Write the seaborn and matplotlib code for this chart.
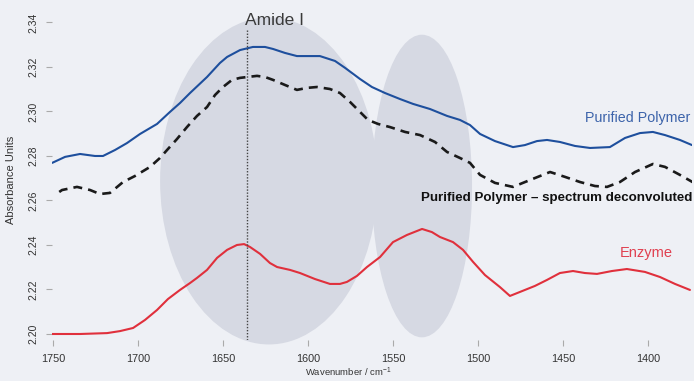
import matplotlib
matplotlib.use("Agg")
import matplotlib.pyplot as plt
from matplotlib.patches import Ellipse
import seaborn as sns
import pandas as pd

# FTIR spectra (wavenumber in cm^-1, absorbance units)
polymer_wn = [1750.5, 1742.9, 1734.1, 1725.3, 1720.6, 1713.5, 1706.5, 1698.8, 1688.8,
              1681.2, 1675.3, 1669.4, 1659.4, 1651.8, 1647.6, 1640.0, 1632.4, 1625.3,
              1620.6, 1613.5, 1606.5, 1598.8, 1593.0, 1584.1, 1578.2, 1569.4, 1562.4,
              1554.7, 1545.9, 1538.2, 1528.2, 1518.2, 1510.6, 1504.7, 1498.8, 1490.0,
              1479.4, 1472.4, 1465.3, 1459.4, 1451.8, 1442.9, 1434.1, 1422.4, 1413.5,
              1404.7, 1397.1, 1390.0, 1381.2, 1374.1]
polymer_abs = [2.2769, 2.2796, 2.2809, 2.2800, 2.2800, 2.2827, 2.2858, 2.2899, 2.2944,
               2.2998, 2.3038, 2.3083, 2.3155, 2.3218, 2.3245, 2.3276, 2.3290, 2.3290,
               2.3281, 2.3263, 2.3249, 2.3249, 2.3249, 2.3227, 2.3196, 2.3146, 2.3110,
               2.3083, 2.3056, 2.3034, 2.3011, 2.2980, 2.2962, 2.2939, 2.2899, 2.2867,
               2.2840, 2.2849, 2.2867, 2.2872, 2.2863, 2.2845, 2.2836, 2.2840, 2.2881,
               2.2903, 2.2908, 2.2894, 2.2872, 2.2849]

deconv_wn = [1748.8, 1744.7, 1735.9, 1728.2, 1722.4, 1716.5, 1708.8, 1701.8, 1692.9,
             1687.1, 1682.9, 1677.1, 1671.2, 1665.3, 1659.4, 1654.7, 1650.0, 1644.7,
             1640.0, 1630.0, 1625.3, 1620.6, 1613.5, 1606.5, 1600.6, 1594.7, 1587.1,
             1581.2, 1575.3, 1569.4, 1564.7, 1558.8, 1551.8, 1542.9, 1534.1, 1525.3,
             1518.2, 1510.6, 1504.7, 1498.8, 1490.0, 1479.4, 1469.4, 1457.6, 1448.8,
             1440.0, 1431.2, 1424.1, 1416.5, 1407.6, 1397.1, 1390.0, 1381.2, 1372.9]
deconv_abs = [2.2625, 2.2647, 2.2661, 2.2647, 2.2629, 2.2634, 2.2683, 2.2710, 2.2751,
              2.2791, 2.2827, 2.2876, 2.2930, 2.2980, 2.3020, 2.3074, 2.3110, 2.3142,
              2.3151, 2.3160, 2.3155, 2.3142, 2.3119, 2.3097, 2.3106, 2.3110, 2.3101,
              2.3083, 2.3043, 2.2998, 2.2962, 2.2944, 2.2930, 2.2908, 2.2894, 2.2863,
              2.2818, 2.2791, 2.2769, 2.2715, 2.2679, 2.2661, 2.2692, 2.2728, 2.2706,
              2.2683, 2.2665, 2.2661, 2.2683, 2.2728, 2.2764, 2.2751, 2.2715, 2.2679]

enzyme_wn = [1751.8, 1734.1, 1718.2, 1710.6, 1702.9, 1695.9, 1688.8, 1682.4, 1675.3,
             1669.4, 1665.3, 1659.4, 1653.5, 1647.6, 1641.8, 1637.6, 1634.1, 1628.2,
             1622.4, 1618.2, 1610.6, 1604.7, 1595.9, 1587.1, 1581.2, 1577.1, 1571.2,
             1565.3, 1557.6, 1550.0, 1541.8, 1532.9, 1527.1, 1522.4, 1514.7, 1508.8,
             1502.9, 1495.9, 1487.1, 1481.2, 1475.3, 1466.5, 1459.4, 1451.8, 1444.1,
             1437.1, 1430.0, 1421.2, 1412.4, 1401.8, 1392.9, 1384.1, 1375.3]
enzyme_abs = [2.2000, 2.2000, 2.2004, 2.2013, 2.2027, 2.2063, 2.2108, 2.2157, 2.2198,
              2.2229, 2.2252, 2.2288, 2.2342, 2.2378, 2.2400, 2.2404, 2.2391, 2.2360,
              2.2319, 2.2301, 2.2288, 2.2274, 2.2247, 2.2225, 2.2225, 2.2234, 2.2261,
              2.2301, 2.2346, 2.2413, 2.2445, 2.2472, 2.2458, 2.2436, 2.2413, 2.2378,
              2.2324, 2.2265, 2.2211, 2.2171, 2.2189, 2.2216, 2.2243, 2.2274, 2.2283,
              2.2274, 2.2270, 2.2283, 2.2292, 2.2279, 2.2256, 2.2225, 2.2198]

x_ticks = [1750, 1700, 1650, 1600, 1550, 1500, 1450, 1400]
y_ticks = [2.20, 2.22, 2.24, 2.26, 2.28, 2.30, 2.32, 2.34]
amide_i_wn = 1636

sns.set_theme(style="white")
plt.rcParams["font.family"] = ["Liberation Sans", "DejaVu Sans"]
plt.rcParams["mathtext.default"] = "regular"

bg = "#eef0f5"
fig = plt.figure(figsize=(6.94, 3.81), dpi=100, facecolor=bg)
ax = fig.add_axes([52 / 694, 1 - 340 / 381, 640 / 694, 340 / 381])
ax.set_facecolor(bg)

# shaded band regions (Amide I and Amide II)
shade = "#d6d9e3"
ax.add_patch(Ellipse((1623, 2.2688), 128, 0.147, facecolor=shade, edgecolor="none",
                     zorder=0, clip_on=False))
ax.add_patch(Ellipse((1533, 2.2665), 59, 0.136, facecolor=shade, edgecolor="none",
                     zorder=0, clip_on=False))

df_p = pd.DataFrame({"wn": polymer_wn, "a": polymer_abs})
df_d = pd.DataFrame({"wn": deconv_wn, "a": deconv_abs})
df_e = pd.DataFrame({"wn": enzyme_wn, "a": enzyme_abs})

line_kw = dict(estimator=None, zorder=3, solid_joinstyle="round",
               solid_capstyle="round")
sns.lineplot(data=df_p, x="wn", y="a", ax=ax, color="#1e4f9d", linewidth=1.5,
             **line_kw)
sns.lineplot(data=df_d, x="wn", y="a", ax=ax, color="#1a1a1a", linewidth=1.9,
             estimator=None, zorder=3, dash_joinstyle="round")
ax.lines[-1].set_dashes((3.4, 2.3))
sns.lineplot(data=df_e, x="wn", y="a", ax=ax, color="#e0303c", linewidth=1.5,
             **line_kw)

# Amide I marker
ax.plot([amide_i_wn, amide_i_wn], [2.1973, 2.3366], linestyle=(0, (1, 1.2)),
        color="#444444", linewidth=1.0, zorder=4)
ax.text(1620, 2.3411, "Amide I", ha="center", va="center", fontsize=12.5,
        color="#3a3a3a")

ax.text(1375.3, 2.2971, "Purified Polymer", ha="right", va="center", fontsize=10.3,
        color="#3c63aa")
ax.text(1.0, 2.2611, "Purified Polymer \u2013 spectrum deconvoluted",
        transform=ax.get_yaxis_transform(), ha="right", va="center",
        fontsize=9.6, fontweight="bold", color="#111111")
ax.text(1401.2, 2.2364, "Enzyme", ha="center", va="center", fontsize=10.5,
        color="#e04050")

ax.set_xlim(1750.6, 1374.1)
ax.set_ylim(2.1973, 2.3501)
ax.set_xticks(x_ticks)
ax.set_xticklabels([str(t) for t in x_ticks])
ax.set_yticks(y_ticks)
ax.set_yticklabels([f"{t:.2f}" for t in y_ticks], rotation=90, va="center")

for s in ax.spines.values():
    s.set_visible(False)

ax.tick_params(axis="x", direction="out", length=4, width=0.8, color="#aaaaaa",
               labelsize=7.8, labelcolor="#333333", pad=6, bottom=True)
ax.tick_params(axis="y", direction="out", length=4, width=0.8, color="#aaaaaa",
               labelsize=7.5, labelcolor="#333333", pad=6, left=True)

ax.set_xlabel("Wavenumber / cm$^{-1}$", fontsize=6.8, color="#333333")
ax.xaxis.set_label_coords(0.4625, -0.075)
ax.set_ylabel("Absorbance Units", fontsize=8, color="#333333")
ax.yaxis.set_label_coords(-0.056, 0.47)

fig.savefig("out.png", dpi=100, facecolor=bg)
